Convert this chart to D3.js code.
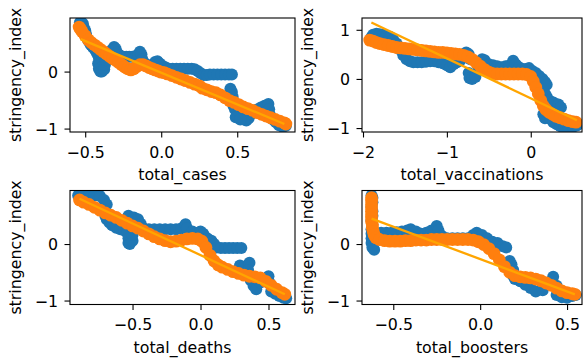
<!DOCTYPE html>
<html><head><meta charset="utf-8">
<script src="https://cdn.jsdelivr.net/npm/d3@7"></script>
<style>body{margin:0;background:#fff}svg{display:block}text{font-family:"DejaVu Sans",sans-serif}</style>
</head><body><svg id="c" width="584" height="362"></svg>
<script>
const yLabel = "stringency_index";
const xLabels = ["total_cases", "total_vaccinations", "total_deaths", "total_boosters"];

// ---- total_cases ----
const casesX = [-0.535,-0.525,-0.515,-0.51,-0.50,-0.495,-0.49,-0.48,-0.47,-0.46,-0.45,-0.44,-0.43,-0.42,-0.41,-0.415,-0.41,-0.40,-0.39,-0.375,-0.37,-0.365,-0.35,-0.34,-0.325,-0.31,-0.30,-0.29,-0.27,-0.25,-0.23,-0.21,-0.19,-0.17,-0.15,-0.14,-0.13,-0.125,-0.11,-0.095,-0.08,-0.06,-0.04,-0.025,-0.01,0.01,0.03,0.05,0.075,0.10,0.125,0.15,0.175,0.20,0.22,0.24,0.26,0.28,0.30,0.32,0.345,0.37,0.395,0.42,0.445,0.465,0.455,0.465,0.47,0.47,0.475,0.485,0.50,0.515,0.53,0.545,0.56,0.575,0.59,0.61,0.63,0.655,0.68,0.705,0.71,0.715,0.735,0.755,0.775,0.80,0.82,0.49,0.52,0.50];
const casesY = [0.86,0.86,0.84,0.78,0.72,0.66,0.60,0.55,0.50,0.46,0.43,0.40,0.36,0.31,0.25,0.14,0.05,0.00,0.00,0.04,0.12,0.20,0.26,0.33,0.38,0.43,0.40,0.33,0.28,0.26,0.26,0.26,0.26,0.27,0.30,0.35,0.30,0.22,0.15,0.10,0.08,0.12,0.17,0.18,0.14,0.10,0.07,0.05,0.05,0.05,0.05,0.05,0.05,0.05,0.04,0.01,-0.03,-0.06,-0.06,-0.05,-0.05,-0.05,-0.05,-0.05,-0.05,-0.05,-0.30,-0.36,-0.44,-0.52,-0.60,-0.66,-0.70,-0.74,-0.78,-0.84,-0.86,-0.82,-0.75,-0.70,-0.67,-0.63,-0.60,-0.57,-0.66,-0.76,-0.84,-0.89,-0.94,-0.97,-0.95,-0.80,-0.84,-0.60];
const casesPredX = [-0.54,-0.53,-0.52,-0.50,-0.48,-0.46,-0.44,-0.42,-0.40,-0.38,-0.36,-0.34,-0.32,-0.30,-0.28,-0.26,-0.24,-0.22,-0.20,-0.18,-0.16,-0.14,-0.12,-0.10,-0.08,-0.06,-0.04,-0.02,0.00,0.02,0.04,0.07,0.10,0.13,0.16,0.19,0.22,0.25,0.27,0.30,0.33,0.36,0.39,0.42,0.45,0.48,0.51,0.54,0.57,0.60,0.63,0.66,0.69,0.72,0.75,0.78,0.81,0.82];
const casesPredY = [0.78,0.74,0.70,0.63,0.56,0.51,0.47,0.43,0.39,0.35,0.31,0.27,0.23,0.20,0.16,0.12,0.08,0.05,0.03,0.05,0.09,0.12,0.12,0.10,0.07,0.05,0.03,0.01,-0.01,-0.02,-0.04,-0.07,-0.10,-0.13,-0.16,-0.19,-0.22,-0.25,-0.29,-0.32,-0.35,-0.37,-0.41,-0.46,-0.51,-0.54,-0.58,-0.62,-0.65,-0.68,-0.72,-0.75,-0.78,-0.81,-0.84,-0.87,-0.90,-0.92];
const casesFitX = [-0.53, 0.81];
const casesFitY = [0.57, -0.92];

// ---- total_vaccinations ----
const vaccX = [-1.90,-1.88,-1.84,-1.80,-1.76,-1.72,-1.68,-1.64,-1.60,-1.56,-1.52,-1.48,-1.44,-1.40,-1.35,-1.30,-1.25,-1.20,-1.15,-1.10,-1.05,-1.00,-0.96,-0.92,-0.88,-0.84,-0.80,-0.77,-0.74,-0.72,-0.74,-0.73,-0.70,-0.66,-0.62,-0.58,-0.55,-0.50,-0.45,-0.40,-0.35,-0.30,-0.25,-0.21,-0.18,-0.14,-0.10,-0.06,-0.02,0.02,0.06,0.10,0.14,0.17,0.19,0.17,0.19,0.22,0.27,0.33,0.36,0.15,0.17,0.20,0.22,0.24,0.27,0.31,0.35,0.40,0.45,0.50,0.55];
const vaccY = [0.85,0.90,0.92,0.91,0.90,0.88,0.86,0.80,0.72,0.60,0.48,0.40,0.36,0.34,0.34,0.34,0.35,0.36,0.36,0.34,0.32,0.28,0.24,0.30,0.34,0.38,0.46,0.54,0.50,0.40,0.12,0.02,0.00,0.04,0.20,0.40,0.38,0.30,0.28,0.26,0.24,0.26,0.28,0.37,0.30,0.24,0.20,0.20,0.22,0.16,0.12,0.06,0.00,-0.06,-0.12,-0.30,-0.36,-0.44,-0.48,-0.52,-0.58,-0.72,-0.80,-0.62,-0.72,-0.82,-0.88,-0.92,-0.96,-0.99,-1.00,-0.98,-0.95];
const vaccPredX = [-1.92,-1.88,-1.84,-1.80,-1.75,-1.70,-1.65,-1.60,-1.55,-1.50,-1.45,-1.40,-1.35,-1.30,-1.25,-1.20,-1.15,-1.10,-1.05,-1.00,-0.95,-0.90,-0.85,-0.80,-0.75,-0.70,-0.65,-0.60,-0.55,-0.50,-0.45,-0.40,-0.35,-0.30,-0.25,-0.20,-0.15,-0.10,-0.05,0.00,0.03,0.06,0.09,0.12,0.15,0.18,0.22,0.26,0.30,0.35,0.40,0.45,0.50,0.54];
const vaccPredY = [0.79,0.77,0.74,0.72,0.70,0.68,0.66,0.64,0.63,0.62,0.61,0.60,0.59,0.58,0.57,0.56,0.55,0.54,0.54,0.53,0.52,0.51,0.50,0.48,0.45,0.40,0.33,0.26,0.19,0.14,0.11,0.10,0.10,0.10,0.10,0.10,0.10,0.10,0.09,0.05,-0.05,-0.17,-0.30,-0.44,-0.55,-0.62,-0.68,-0.72,-0.76,-0.79,-0.82,-0.85,-0.87,-0.88];
const vaccFitX = [-1.90, 0.55];
const vaccFitY = [1.15, -0.84];

// ---- total_deaths ----
const deathsX = [-0.90,-0.86,-0.82,-0.78,-0.74,-0.71,-0.69,-0.71,-0.70,-0.69,-0.67,-0.65,-0.62,-0.59,-0.56,-0.54,-0.53,-0.53,-0.52,-0.50,-0.50,-0.55,-0.53,-0.49,-0.46,-0.44,-0.42,-0.38,-0.34,-0.30,-0.26,-0.22,-0.18,-0.14,-0.11,-0.10,-0.06,-0.02,0.00,0.02,0.05,0.08,0.10,0.12,0.15,0.18,0.21,0.24,0.27,0.30,0.29,0.32,0.36,0.35,0.36,0.37,0.39,0.41,0.44,0.47,0.50,0.51,0.52,0.55,0.58,0.61,0.63];
const deathsY = [0.86,0.86,0.86,0.86,0.85,0.78,0.70,0.60,0.50,0.44,0.38,0.33,0.29,0.26,0.24,0.20,0.10,0.02,0.00,0.06,0.16,0.42,0.50,0.47,0.44,0.36,0.28,0.26,0.26,0.26,0.26,0.26,0.26,0.28,0.35,0.28,0.22,0.20,0.22,0.18,0.10,0.06,0.00,-0.06,-0.07,-0.07,-0.07,-0.07,-0.07,-0.07,-0.38,-0.40,-0.33,-0.46,-0.56,-0.64,-0.74,-0.80,-0.68,-0.62,-0.57,-0.70,-0.84,-0.88,-0.92,-0.95,-0.96];
const deathsPredX = [-0.89,-0.86,-0.82,-0.78,-0.74,-0.70,-0.66,-0.62,-0.58,-0.54,-0.50,-0.46,-0.42,-0.38,-0.34,-0.30,-0.26,-0.22,-0.18,-0.14,-0.10,-0.06,-0.02,0.01,0.04,0.07,0.10,0.13,0.16,0.20,0.24,0.28,0.32,0.36,0.40,0.44,0.48,0.52,0.56,0.60,0.62];
const deathsPredY = [0.78,0.74,0.70,0.65,0.60,0.55,0.51,0.47,0.42,0.37,0.32,0.28,0.23,0.18,0.13,0.09,0.06,0.04,0.05,0.07,0.09,0.10,0.09,0.05,-0.06,-0.20,-0.30,-0.37,-0.41,-0.45,-0.49,-0.52,-0.55,-0.57,-0.58,-0.60,-0.66,-0.73,-0.80,-0.86,-0.89];
const deathsFitX = [-0.89, 0.62];
const deathsFitY = [0.80, -0.89];

// ---- total_boosters ----
const boostX = [-0.625,-0.62,-0.62,-0.625,-0.62,-0.62,-0.625,-0.62,-0.625,-0.625,-0.625,-0.625,-0.62,-0.61,-0.60,-0.57,-0.54,-0.51,-0.48,-0.45,-0.42,-0.40,-0.37,-0.34,-0.31,-0.28,-0.25,-0.24,-0.22,-0.19,-0.16,-0.13,-0.10,-0.07,-0.04,-0.02,0.01,0.04,0.07,0.10,0.13,0.15,0.17,0.18,0.19,0.19,0.20,0.23,0.26,0.29,0.32,0.36,0.40,0.42,0.44,0.44,0.47,0.50,0.53,0.55];
const boostY = [0.86,0.82,0.74,0.66,0.58,0.50,0.42,0.34,0.26,0.18,0.10,0.02,-0.06,-0.10,0.18,0.20,0.20,0.20,0.21,0.22,0.24,0.26,0.22,0.18,0.20,0.24,0.32,0.24,0.14,0.10,0.10,0.10,0.10,0.10,0.16,0.20,0.16,0.10,0.04,0.02,-0.04,-0.06,-0.30,-0.36,-0.46,-0.56,-0.62,-0.66,-0.72,-0.78,-0.84,-0.82,-0.70,-0.58,-0.74,-0.90,-0.94,-0.95,-0.92,-0.90];
const boostPredX = [-0.625,-0.625,-0.625,-0.625,-0.625,-0.625,-0.625,-0.625,-0.62,-0.62,-0.615,-0.61,-0.60,-0.58,-0.55,-0.52,-0.49,-0.46,-0.43,-0.40,-0.37,-0.34,-0.31,-0.28,-0.25,-0.22,-0.19,-0.16,-0.13,-0.10,-0.07,-0.04,-0.01,0.02,0.05,0.08,0.11,0.14,0.17,0.20,0.23,0.26,0.29,0.32,0.35,0.38,0.41,0.44,0.47,0.50,0.53,0.545];
const boostPredY = [0.82,0.76,0.70,0.64,0.58,0.52,0.46,0.40,0.34,0.28,0.22,0.16,0.11,0.08,0.06,0.05,0.05,0.05,0.06,0.06,0.07,0.07,0.07,0.08,0.08,0.08,0.08,0.08,0.08,0.08,0.08,0.07,0.04,-0.01,-0.08,-0.17,-0.28,-0.40,-0.50,-0.56,-0.58,-0.59,-0.60,-0.62,-0.65,-0.69,-0.73,-0.78,-0.83,-0.86,-0.88,-0.89];
const boostFitX = [-0.625, 0.545];
const boostFitY = [0.45, -0.89];

// ---- ticks ----
const xTicksA = [-0.5, 0, 0.5];
const xTickLabelsA = ["\u22120.5", "0.0", "0.5"];
const xTicksB = [-2, -1, 0];
const xTickLabelsB = ["\u22122", "\u22121", "0"];
const yTicksA = [-1, 0];
const yTickLabelsA = ["\u22121", "0"];
const yTicksB = [-1, 0, 1];
const yTickLabelsB = ["\u22121", "0", "1"];

const blue = "#1f77b4", orange = "#ff7f0e", fitColor = "orange";
const FS = 15.8;

const panels = [
  {left:70, top:18, w:225, h:114, xDom:[-0.60,0.88], yDom:[-1.06,0.94], bx:casesX, by:casesY, px:casesPredX, py:casesPredY, fx:casesFitX, fy:casesFitY, xt:xTicksA, xl:xTickLabelsA, yt:yTicksA, yl:yTickLabelsA, label:xLabels[0]},
  {left:362, top:18, w:220, h:114, xDom:[-2.012,0.611], yDom:[-1.08,1.24], bx:vaccX, by:vaccY, px:vaccPredX, py:vaccPredY, fx:vaccFitX, fy:vaccFitY, xt:xTicksB, xl:xTickLabelsB, yt:yTicksB, yl:yTickLabelsB, label:xLabels[1]},
  {left:70, top:190.5, w:225, h:114, xDom:[-0.96,0.695], yDom:[-1.07,0.947], bx:deathsX, by:deathsY, px:deathsPredX, py:deathsPredY, fx:deathsFitX, fy:deathsFitY, xt:xTicksA, xl:xTickLabelsA, yt:yTicksA, yl:yTickLabelsA, label:xLabels[2]},
  {left:362, top:190.5, w:220, h:114, xDom:[-0.68,0.586], yDom:[-1.07,0.947], bx:boostX, by:boostY, px:boostPredX, py:boostPredY, fx:boostFitX, fy:boostFitY, xt:xTicksA, xl:xTickLabelsA, yt:yTicksA, yl:yTickLabelsA, label:xLabels[3]}
];

const svg = d3.select("#c");
panels.forEach((p, i) => {
  const x = d3.scaleLinear().domain(p.xDom).range([0, p.w]);
  const y = d3.scaleLinear().domain(p.yDom).range([p.h, 0]);
  const g = svg.append("g").attr("transform", `translate(${p.left},${p.top})`);
  const cid = "clip" + i;
  g.append("clipPath").attr("id", cid).append("rect").attr("width", p.w).attr("height", p.h);
  const plot = g.append("g").attr("clip-path", `url(#${cid})`);
  plot.selectAll("circle.b").data(d3.range(p.bx.length)).join("circle").attr("class","b")
    .attr("cx", k => x(p.bx[k])).attr("cy", k => y(p.by[k])).attr("r", 6).attr("fill", blue);
  plot.selectAll("circle.o").data(d3.range(p.px.length)).join("circle").attr("class","o")
    .attr("cx", k => x(p.px[k])).attr("cy", k => y(p.py[k])).attr("r", 6.4).attr("fill", orange);
  plot.append("path").datum(d3.range(p.fx.length))
    .attr("d", d3.line().x(k => x(p.fx[k])).y(k => y(p.fy[k])))
    .attr("fill", "none").attr("stroke", fitColor).attr("stroke-width", 2.3);

  const xa = g.append("g").attr("transform", `translate(0,${p.h})`)
    .call(d3.axisBottom(x).tickValues(p.xt).tickFormat((d, k) => p.xl[k]).tickSize(5.5).tickSizeOuter(0));
  xa.select(".domain").remove();
  xa.selectAll("line").attr("stroke", "#000").attr("stroke-width", 1.1);
  xa.selectAll("text").attr("y", 25.5).attr("dy", null).attr("fill", "#000").attr("font-size", FS).attr("font-family", "DejaVu Sans");

  const ya = g.append("g")
    .call(d3.axisLeft(y).tickValues(p.yt).tickFormat((d, k) => p.yl[k]).tickSize(5.5).tickSizeOuter(0));
  ya.select(".domain").remove();
  ya.selectAll("line").attr("stroke", "#000").attr("stroke-width", 1.1);
  ya.selectAll("text").attr("x", -12).attr("dy", "0.36em").attr("fill", "#000").attr("font-size", FS).attr("font-family", "DejaVu Sans");

  g.append("rect").attr("width", p.w).attr("height", p.h).attr("fill", "none").attr("stroke", "#000").attr("stroke-width", 1.1);

  g.append("text").attr("x", p.w / 2).attr("y", p.h + 48).attr("text-anchor", "middle")
    .attr("font-size", FS).attr("fill", "#000").text(p.label);
  g.append("text").attr("transform", `translate(-49,${p.h / 2}) rotate(-90)`).attr("text-anchor", "middle")
    .attr("font-size", FS).attr("fill", "#000").text(yLabel);
});
</script></body></html>
